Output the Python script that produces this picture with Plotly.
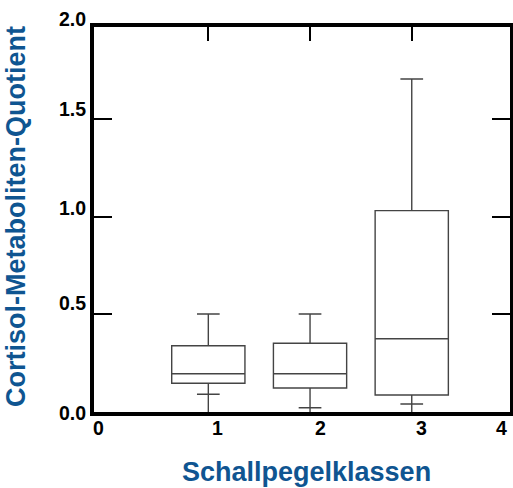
import plotly.graph_objects as go

# ---- data ----
categories = [1, 2, 3]
upper_whisker = [0.502, 0.502, 1.705]
q3_values = [0.339, 0.352, 1.031]
median_values = [0.196, 0.196, 0.375]
q1_values = [0.147, 0.123, 0.087]
lower_whisker = [0.091, 0.022, 0.041]
minimum_values = [0.0, 0.0, 0.0]

x_tick_labels = ["0", "1", "2", "3", "4"]
x_tick_positions = [0, 1, 2, 3, 4]
y_tick_labels = ["0.0", "0.5", "1.0", "1.5", "2.0"]
y_tick_positions = [0.0, 0.5, 1.0, 1.5, 2.0]

# ---- styling ----
LINE = "#444444"
TITLE_BLUE = "#0f5591"
FONT = "Liberation Sans, Arial, sans-serif"
X_RANGE = [-0.124, 3.966]
Y_RANGE = [0.0, 1.971]
x_label_shift = [-8, 9, 10, 10, -12]
y_label_shift = [-1, 11, 9, 10, 2]


def to_paper(v, rng):
    return (v - rng[0]) / (rng[1] - rng[0])


fig = go.Figure()

fig.add_trace(go.Box(
    x=categories,
    q1=q1_values,
    median=median_values,
    q3=q3_values,
    lowerfence=lower_whisker,
    upperfence=upper_whisker,
    width=0.72,
    whiskerwidth=0.31,
    fillcolor="white",
    line=dict(color=LINE, width=1.4),
    boxpoints=False,
    hoverinfo="skip",
    showlegend=False,
))

# whisker continuation from the lower cap down to the minimum
for cx, lo, mn in zip(categories, lower_whisker, minimum_values):
    fig.add_trace(go.Scatter(
        x=[cx, cx], y=[mn, lo], mode="lines",
        line=dict(color=LINE, width=1.4),
        showlegend=False, hoverinfo="skip",
    ))

annotations = []
for v, t, s in zip(x_tick_positions, x_tick_labels, x_label_shift):
    annotations.append(dict(
        x=to_paper(v, X_RANGE), y=0, xref="paper", yref="paper", text=t, showarrow=False,
        xanchor="center", yanchor="top", xshift=s, yshift=-3,
        font=dict(family=FONT, size=19.5, color="black", weight="bold"),
    ))
for v, t, s in zip(y_tick_positions, y_tick_labels, y_label_shift):
    annotations.append(dict(
        x=0, y=to_paper(v, Y_RANGE), xref="paper", yref="paper", text=t, showarrow=False,
        xanchor="right", yanchor="middle", xshift=-6, yshift=s,
        font=dict(family=FONT, size=19.5, color="black", weight="bold"),
    ))
annotations.append(dict(
    x=0.51, y=-0.112, xref="paper", yref="paper", text="Schallpegelklassen",
    showarrow=False, xanchor="center", yanchor="top",
    font=dict(family=FONT, size=27, color=TITLE_BLUE, weight="bold"),
))
annotations.append(dict(
    x=-0.186, y=0.508, xref="paper", yref="paper", text="Cortisol-Metaboliten-Quotient",
    showarrow=False, xanchor="center", yanchor="middle", textangle=-90,
    font=dict(family=FONT, size=27, color=TITLE_BLUE, weight="bold"),
))

fig.update_layout(
    width=513, height=488, autosize=False,
    margin=dict(l=94, r=3, t=27, b=76),
    paper_bgcolor="white", plot_bgcolor="white",
    showlegend=False,
    xaxis=dict(
        range=X_RANGE, showgrid=False, zeroline=False, automargin=False,
        showline=True, linecolor="black", linewidth=3.5, mirror=True,
        ticks="", showticklabels=False,
    ),
    xaxis2=dict(
        overlaying="x", side="top", matches="x", anchor="y", automargin=False,
        showgrid=False, zeroline=False, showline=False,
        ticks="inside", ticklen=14, tickwidth=2, tickcolor="black",
        tickvals=[1, 2, 3], showticklabels=False,
    ),
    yaxis=dict(
        range=Y_RANGE, showgrid=False, zeroline=False, automargin=False,
        showline=True, linecolor="black", linewidth=3.5, mirror="ticks",
        ticks="inside", ticklen=18, tickwidth=2, tickcolor="black",
        tickvals=[0.5, 1.0, 1.5], showticklabels=False,
    ),
    annotations=annotations,
)

# invisible trace to activate the top axis
fig.add_trace(go.Scatter(x=[1], y=[0], xaxis="x2", yaxis="y", mode="markers",
                         marker=dict(opacity=0), showlegend=False, hoverinfo="skip"))

fig.write_html(
    "out.html",
    config={"displayModeBar": False, "responsive": False},
    post_script="document.body.style.margin='0';document.body.style.overflow='hidden';",
)
